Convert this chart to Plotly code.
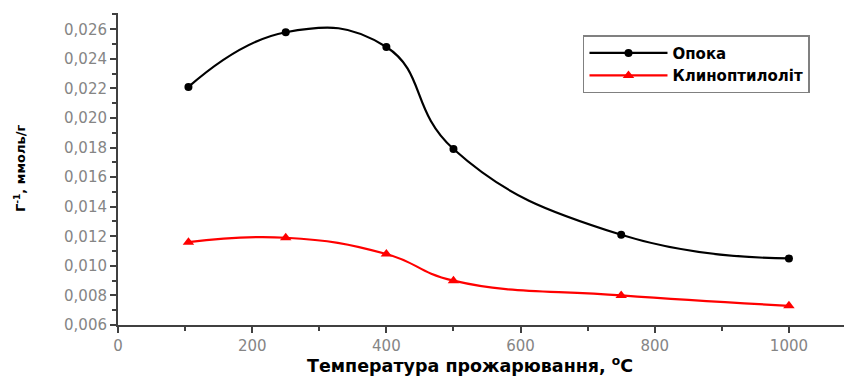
import plotly.graph_objects as go

temps = [105, 250, 400, 500, 750, 1000]
opoka = [0.0221, 0.0258, 0.0248, 0.0179, 0.0121, 0.0105]
klino = [0.0116, 0.0119, 0.0108, 0.0090, 0.0080, 0.0073]
names = ["Опока", "Клиноптилоліт"]
x_title = "<b>Температура прожарювання, <sup>o</sup>C</b>"
y_title = "<b>Г<sup>-1</sup>, ммоль/г</b>"

fig = go.Figure()
fig.add_trace(go.Scatter(x=temps, y=opoka, name=names[0], mode="lines+markers",
                         line=dict(color="black", width=2.2, shape="spline", smoothing=1.3),
                         marker=dict(symbol="circle", size=8, color="black")))
fig.add_trace(go.Scatter(x=temps, y=klino, name=names[1], mode="lines+markers",
                         line=dict(color="#ff0000", width=2.2, shape="spline", smoothing=1.3),
                         marker=dict(symbol="triangle-up", size=10, color="#ff0000")))

axis_common = dict(showgrid=False, zeroline=False, showline=True, linecolor="#404040", linewidth=2,
                   ticks="outside", ticklen=6, tickwidth=2, tickcolor="#404040", automargin=False,
                   tickfont=dict(family="DejaVu Sans", size=15, color="#858585"))

fig.update_layout(
    width=844, height=373,
    margin=dict(l=110, r=0, t=5, b=56),
    paper_bgcolor="white", plot_bgcolor="white",
    separators=",.",
    font=dict(family="DejaVu Sans", color="black"),
    xaxis=dict(range=[0, 1094], dtick=200, tick0=0,
               minor=dict(ticks="outside", ticklen=4, dtick=100, tickcolor="#404040", tickwidth=2),
               **axis_common),
    yaxis=dict(range=[0.006, 0.0271], dtick=0.002, tick0=0.006, tickformat=".3f",
               minor=dict(ticks="outside", ticklen=4, dtick=0.001, tickcolor="#404040", tickwidth=2),
               **axis_common),
    legend=dict(x=0.6335, y=0.929, xanchor="left", yanchor="top",
                bordercolor="#808080", borderwidth=1.5, bgcolor="white",
                font=dict(family="DejaVu Sans", size=15, color="black", weight="bold"),
                tracegroupgap=0, itemwidth=78),
    showlegend=True,
    annotations=[
        dict(text=x_title, xref="paper", yref="paper", x=0.4796, y=-0.128,
             xanchor="center", yanchor="middle", showarrow=False,
             font=dict(family="DejaVu Sans", size=17.5, color="black")),
        dict(text=y_title, xref="paper", yref="paper", x=-0.1335, y=0.503,
             xanchor="center", yanchor="middle", showarrow=False, textangle=-90,
             font=dict(family="DejaVu Sans", size=13, color="black")),
    ],
)

fig.write_html("out.html")
